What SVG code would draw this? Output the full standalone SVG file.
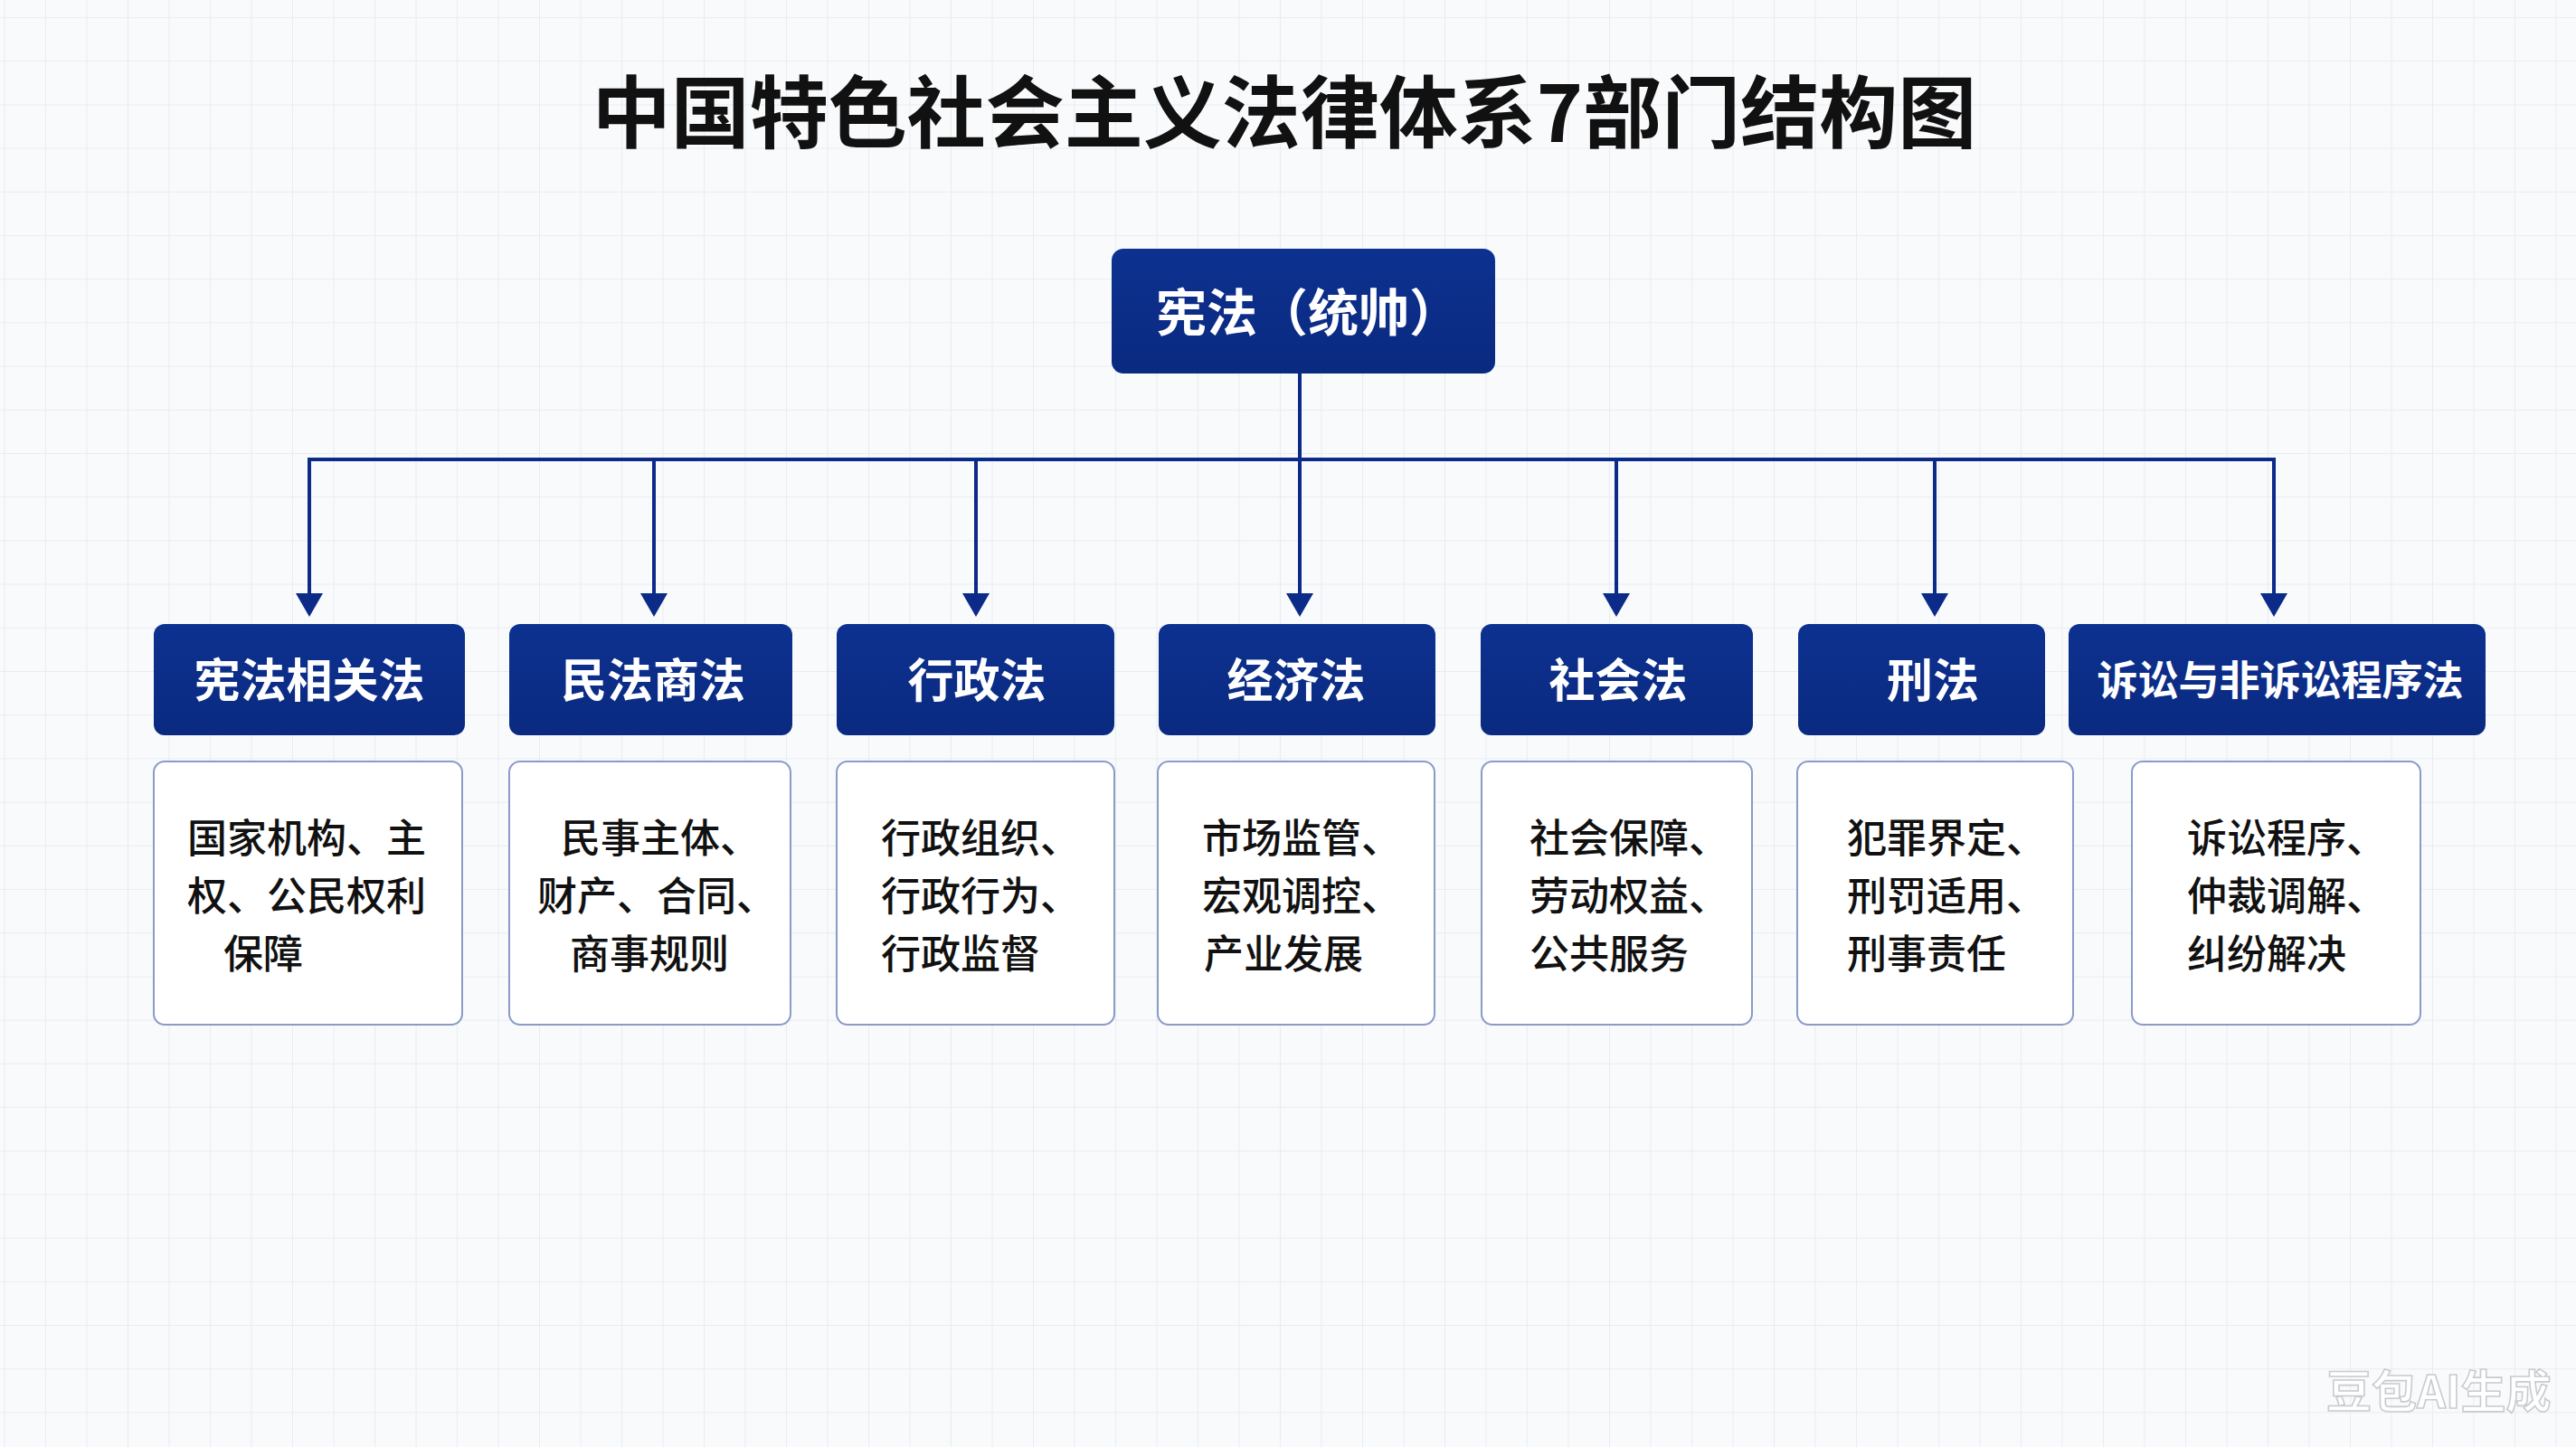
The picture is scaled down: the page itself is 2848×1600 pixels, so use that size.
<svg xmlns="http://www.w3.org/2000/svg" width="2848" height="1600" viewBox="0 0 2848 1600">
  <defs>
    <pattern id="grid" patternUnits="userSpaceOnUse" x="4.5" y="19" width="45.5" height="48.2">
      <path d="M0,0 H45.5 M0,0 V48.2" fill="none" stroke="#e5e9ef" stroke-width="1.6"/>
    </pattern>
    <linearGradient id="navy" x1="0" y1="0" x2="0" y2="1">
      <stop offset="0" stop-color="#0d3190"/>
      <stop offset="1" stop-color="#0a2a80"/>
    </linearGradient>
    <marker id="arrow" markerUnits="userSpaceOnUse" viewBox="0 -15 26 30" refX="0" refY="0" markerWidth="26" markerHeight="30" orient="auto">
      <path d="M0,-15 L26,0 L0,15 Z" fill="#0c2a88"/>
    </marker>
    <style>
      .title { font-family: "Noto Sans CJK SC", "Noto Sans", sans-serif; font-weight: 700; font-size: 87px; fill: #111111; }
      .head { fill: url(#navy); }
      .headtxt { font-family: "Noto Sans CJK SC", "Noto Sans", sans-serif; font-weight: 700; font-size: 51px; fill: #ffffff; text-anchor: middle; }
      .desc { fill: #ffffff; stroke: #8b9bc8; stroke-width: 2; }
      .desctxt { font-family: "Noto Sans CJK SC", "Noto Sans", sans-serif; font-weight: 500; font-size: 44px; fill: #111111; }
      .conn { fill: none; stroke: #0c2a88; stroke-width: 4; }
      .wm { font-family: "Noto Sans CJK SC", "Noto Sans", sans-serif; font-weight: 700; font-size: 50px; fill: #ffffff; stroke: #c9cbd0; stroke-width: 1.6; }
    </style>
  </defs>

  <rect x="0" y="0" width="2848" height="1600" fill="#f8fafc"/>
  <rect x="0" y="0" width="2848" height="1600" fill="url(#grid)"/>

  <text class="title" x="1420" y="157" text-anchor="middle">中国特色社会主义法律体系7部门结构图</text>

  <g id="connectors">
    <path class="conn" d="M1437,413 V508"/>
    <path class="conn" d="M340,508 H2516"/>
    <path class="conn" d="M342,508 V656" marker-end="url(#arrow)"/>
    <path class="conn" d="M723,508 V656" marker-end="url(#arrow)"/>
    <path class="conn" d="M1079,508 V656" marker-end="url(#arrow)"/>
    <path class="conn" d="M1437,508 V656" marker-end="url(#arrow)"/>
    <path class="conn" d="M1787,508 V656" marker-end="url(#arrow)"/>
    <path class="conn" d="M2139,508 V656" marker-end="url(#arrow)"/>
    <path class="conn" d="M2514,508 V656" marker-end="url(#arrow)"/>
  </g>

  <g id="root">
    <rect class="head" x="1229" y="275" width="424" height="138" rx="13"/>
    <text class="headtxt" x="1446" y="366" style="font-size:56px">宪法（统帅）</text>
  </g>

  <g id="n1">
    <rect class="head" x="170" y="690" width="344" height="123" rx="12"/>
    <text class="headtxt" x="342" y="771">宪法相关法</text>
    <rect class="desc" x="170" y="842" width="341" height="291" rx="12"/>
    <text class="desctxt" x="207" y="943">国家机构、主</text>
    <text class="desctxt" x="207" y="1007">权、公民权利</text>
    <text class="desctxt" x="247" y="1071">保障</text>
  </g>

  <g id="n2">
    <rect class="head" x="563" y="690" width="313" height="123" rx="12"/>
    <text class="headtxt" x="722" y="771">民法商法</text>
    <rect class="desc" x="563" y="842" width="311" height="291" rx="12"/>
    <text class="desctxt" x="620" y="943">民事主体、</text>
    <text class="desctxt" x="594" y="1007">财产、合同、</text>
    <text class="desctxt" x="630" y="1071">商事规则</text>
  </g>

  <g id="n3">
    <rect class="head" x="925" y="690" width="307" height="123" rx="12"/>
    <text class="headtxt" x="1080" y="771">行政法</text>
    <rect class="desc" x="925" y="842" width="307" height="291" rx="12"/>
    <text class="desctxt" x="974" y="943">行政组织、</text>
    <text class="desctxt" x="974" y="1007">行政行为、</text>
    <text class="desctxt" x="974" y="1071">行政监督</text>
  </g>

  <g id="n4">
    <rect class="head" x="1281" y="690" width="306" height="123" rx="12"/>
    <text class="headtxt" x="1433" y="771">经济法</text>
    <rect class="desc" x="1280" y="842" width="306" height="291" rx="12"/>
    <text class="desctxt" x="1329" y="943">市场监管、</text>
    <text class="desctxt" x="1329" y="1007">宏观调控、</text>
    <text class="desctxt" x="1331" y="1071">产业发展</text>
  </g>

  <g id="n5">
    <rect class="head" x="1637" y="690" width="301" height="123" rx="12"/>
    <text class="headtxt" x="1789" y="771">社会法</text>
    <rect class="desc" x="1638" y="842" width="299" height="291" rx="12"/>
    <text class="desctxt" x="1691" y="943">社会保障、</text>
    <text class="desctxt" x="1691" y="1007">劳动权益、</text>
    <text class="desctxt" x="1691" y="1071">公共服务</text>
  </g>

  <g id="n6">
    <rect class="head" x="1988" y="690" width="273" height="123" rx="12"/>
    <text class="headtxt" x="2137" y="771">刑法</text>
    <rect class="desc" x="1987" y="842" width="305" height="291" rx="12"/>
    <text class="desctxt" x="2042" y="943">犯罪界定、</text>
    <text class="desctxt" x="2042" y="1007">刑罚适用、</text>
    <text class="desctxt" x="2042" y="1071">刑事责任</text>
  </g>

  <g id="n7">
    <rect class="head" x="2287" y="690" width="461" height="123" rx="12"/>
    <text class="headtxt" x="2521" y="769" style="font-size:45px">诉讼与非诉讼程序法</text>
    <rect class="desc" x="2357" y="842" width="319" height="291" rx="12"/>
    <text class="desctxt" x="2418" y="943">诉讼程序、</text>
    <text class="desctxt" x="2418" y="1007">仲裁调解、</text>
    <text class="desctxt" x="2418" y="1071">纠纷解决</text>
  </g>

  <text class="wm" x="2572" y="1557">豆包AI生成</text>
</svg>
